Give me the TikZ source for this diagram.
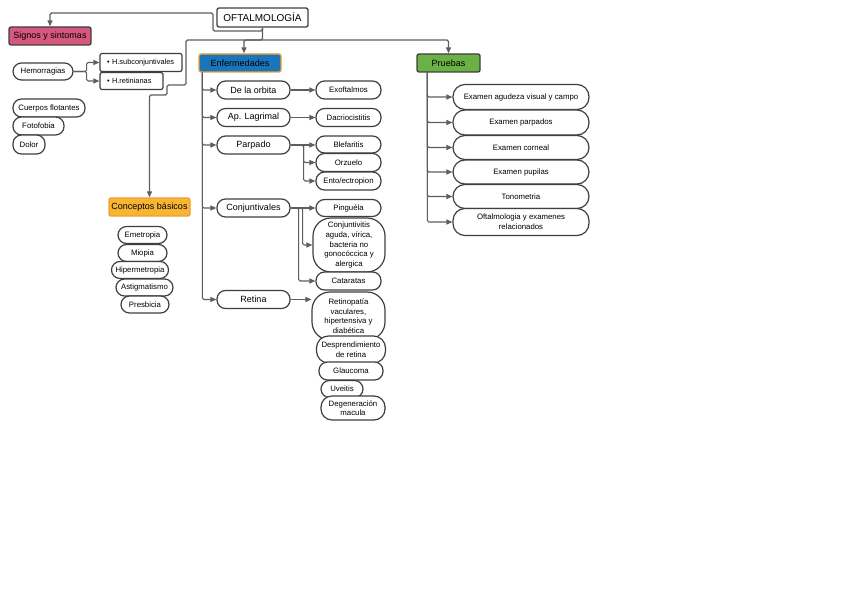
\documentclass[tikz,border=0pt]{standalone}
\usepackage{fontspec}
\setmainfont{Liberation Sans}
\usetikzlibrary{arrows.meta}
\definecolor{ln}{HTML}{5E5E5E}
\definecolor{bd}{HTML}{3F3F3F}
\definecolor{pinkc}{HTML}{D6587E}
\definecolor{bluec}{HTML}{1B75BB}
\definecolor{orangeb}{HTML}{F0A030}
\definecolor{greenc}{HTML}{6BB146}
\definecolor{yellc}{HTML}{F8B433}
\tikzset{
  conn/.style={draw=ln, line width=1.1pt, rounded corners=1.5pt},
  arr/.style={conn, -{Triangle[length=6pt,width=5pt]}},
  mainbox/.style={rectangle, rounded corners=2pt, line width=1.3pt, inner sep=0pt, align=center, font=\fontsize{9}{11}\selectfont},
  pill/.style={rectangle, draw=bd, fill=white, line width=1.2pt, rounded corners=8.5pt, inner sep=0pt, align=center, font=\fontsize{7.8}{9.6}\selectfont},
  bigpill/.style={pill, font=\fontsize{9}{11}\selectfont},
  oval/.style={pill, rounded corners=12pt},
  hbox/.style={rectangle, draw=bd, fill=white, line width=1.2pt, rounded corners=2pt, inner xsep=7pt, inner ysep=0pt, align=left, font=\fontsize{7.4}{9}\selectfont},
}
\begin{document}
\begin{tikzpicture}[x=1pt,y=-1pt]
\useasboundingbox[fill=white] (0,0) rectangle (848,599);

% main boxes
\node[mainbox, draw=bd, fill=white, minimum width=91pt, minimum height=19pt, font=\fontsize{10}{12}\selectfont] (of) at (262.5,17.5) {OFTALMOLOGÍA};
\node[mainbox, draw=bd, fill=pinkc, minimum width=82pt, minimum height=18pt] (signos) at (50,36) {Signos y sintomas};
\node[mainbox, draw=orangeb, fill=bluec, minimum width=82pt, minimum height=18pt] (enf) at (240,63) {Enfermedades};
\node[mainbox, draw=bd, fill=greenc, minimum width=63pt, minimum height=18pt] (pru) at (448.5,63) {Pruebas};
\node[mainbox, draw=orangeb, fill=yellc, minimum width=81pt, minimum height=18pt] (conc) at (149.5,207) {Conceptos básicos};

% signos
\node[pill, minimum width=60pt, minimum height=17pt] (hem) at (43,71.5) {Hemorragias};
\node[hbox, text width=68pt, minimum height=18pt] (hsub) at (141,62.5) {• H.subconjuntivales};
\node[hbox, text width=49pt, minimum height=17pt] (hret) at (131.5,81) {• H.retinianas};
\node[pill, minimum width=72pt, minimum height=18pt] (cuer) at (49,108) {Cuerpos flotantes};
\node[pill, minimum width=51pt, minimum height=18pt] (foto) at (38.5,126) {Fotofobia};
\node[pill, minimum width=32pt, minimum height=19pt] (dolor) at (29,144.5) {Dolor};

% conceptos
\node[pill, minimum width=49pt, minimum height=17pt] (emet) at (142.5,235) {Emetropia};
\node[pill, minimum width=49pt, minimum height=17pt] (miop) at (142.5,253) {Miopia};
\node[pill, minimum width=57pt, minimum height=17pt] (hiper) at (140,270) {Hipermetropia};
\node[pill, minimum width=57pt, minimum height=17pt] (astig) at (144.5,287.5) {Astigmatismo};
\node[pill, minimum width=48pt, minimum height=17pt] (presb) at (145,304.5) {Presbicia};

% enfermedades column
\node[bigpill, minimum width=73pt, minimum height=18pt] (orb) at (253.5,90) {De la orbita};
\node[bigpill, minimum width=73pt, minimum height=18pt] (lag) at (253.5,117.5) {Ap. Lagrimal};
\node[bigpill, minimum width=73pt, minimum height=18pt] (parp) at (253.5,145) {Parpado};
\node[bigpill, minimum width=73pt, minimum height=18pt] (conjv) at (253.5,208) {Conjuntivales};
\node[bigpill, minimum width=73pt, minimum height=18pt] (ret) at (253.5,299.5) {Retina};

\node[pill, minimum width=65pt, minimum height=18pt] (exo) at (348.5,90) {Exoftalmos};
\node[pill, minimum width=65pt, minimum height=18pt] (dacr) at (348.5,117.5) {Dacriocistitis};
\node[pill, minimum width=65pt, minimum height=17pt] (blef) at (348.5,144.5) {Blefaritis};
\node[pill, minimum width=65pt, minimum height=18pt] (orz) at (348.5,162.5) {Orzuelo};
\node[pill, minimum width=65pt, minimum height=18pt] (ento) at (348.5,181) {Ento/ectropion};
\node[pill, minimum width=65pt, minimum height=17pt] (ping) at (348.5,208) {Pinguéla};
\node[pill, rounded corners=18pt, minimum width=72pt, minimum height=54pt] (conjt) at (349,245) {Conjuntivitis\\aguda, vírica,\\bacteria no\\gonocóccica y\\alergica};
\node[pill, minimum width=65pt, minimum height=18pt] (cat) at (348.5,281) {Cataratas};
\node[pill, rounded corners=18pt, minimum width=73pt, minimum height=48pt] (retp) at (348.5,316) {Retinopatía\\vaculares,\\hipertensiva y\\diabética};
\node[pill, rounded corners=12pt, minimum width=69pt, minimum height=27pt] (desp) at (351,349.5) {Desprendimiento\\de retina};
\node[pill, minimum width=64pt, minimum height=18pt] (glau) at (351,371) {Glaucoma};
\node[pill, minimum width=42pt, minimum height=17pt] (uve) at (342,389) {Uveitis};
\node[pill, rounded corners=11pt, minimum width=64pt, minimum height=24pt] (deg) at (353,408) {Degeneración\\macula};

% pruebas column
\node[oval, minimum width=136pt, minimum height=25pt] (ex1) at (521,97) {Examen agudeza visual y campo};
\node[oval, minimum width=136pt, minimum height=25pt] (ex2) at (521,122.5) {Examen parpados};
\node[oval, minimum width=136pt, minimum height=24pt] (ex3) at (521,147.5) {Examen corneal};
\node[oval, minimum width=136pt, minimum height=24pt] (ex4) at (521,172) {Examen pupilas};
\node[oval, minimum width=136pt, minimum height=24pt] (ex5) at (521,196.5) {Tonometria};
\node[oval, minimum width=136pt, minimum height=27pt] (ex6) at (521,222) {Oftalmologia y examenes\\relacionados};

% waypoints
\coordinate (t1) at (262.5,31);
\coordinate (t2) at (213,13);
\coordinate (t3) at (262.5,40);
\coordinate (c1) at (186,85);
\coordinate (c2) at (167,95);

% top connectors
\draw[arr] (of.south) -- (t1) -| (t2) -| (signos.north);
\draw[arr] (of.south) -- (t3) -| ([xshift=4pt]enf.north);
\draw[arr] (t3) -| (pru.north);
\draw[arr] (t3) -| (c1) -| (c2) -| (conc.north);

% hemorragias
\draw[arr] (hem.east) -- ++(13,0) |- (hsub.west);
\draw[arr] (hem.east) -- ++(13,0) |- (hret.west);

% enfermedades trunk
\foreach \n in {orb,lag,parp,conjv,ret}
  \draw[arr] ([xshift=4pt]enf.south west) |- (\n.west);

\draw[arr] (orb.east) -- (exo.west);
\draw[arr] (lag.east) -- (dacr.west);
\draw[arr] (parp.east) -- (parp.east -| blef.west);
\draw[arr] (parp.east) -- ++(13,0) |- (orz.west);
\draw[arr] (parp.east) -- ++(13,0) |- (ento.west);
\draw[arr] (conjv.east) -- (ping.west);
\draw[arr] (conjv.east) -- ++(12,0) |- (conjt.west);
\draw[arr] (conjv.east) -- ++(8,0) |- (cat.west);
\draw[arr] (ret.east) -- (ret.east -| retp.west);

% pruebas trunk
\foreach \n in {ex1,ex2,ex3,ex4,ex5,ex6}
  \draw[arr] ([xshift=11pt]pru.south west) |- (\n.west);

\end{tikzpicture}
\end{document}
